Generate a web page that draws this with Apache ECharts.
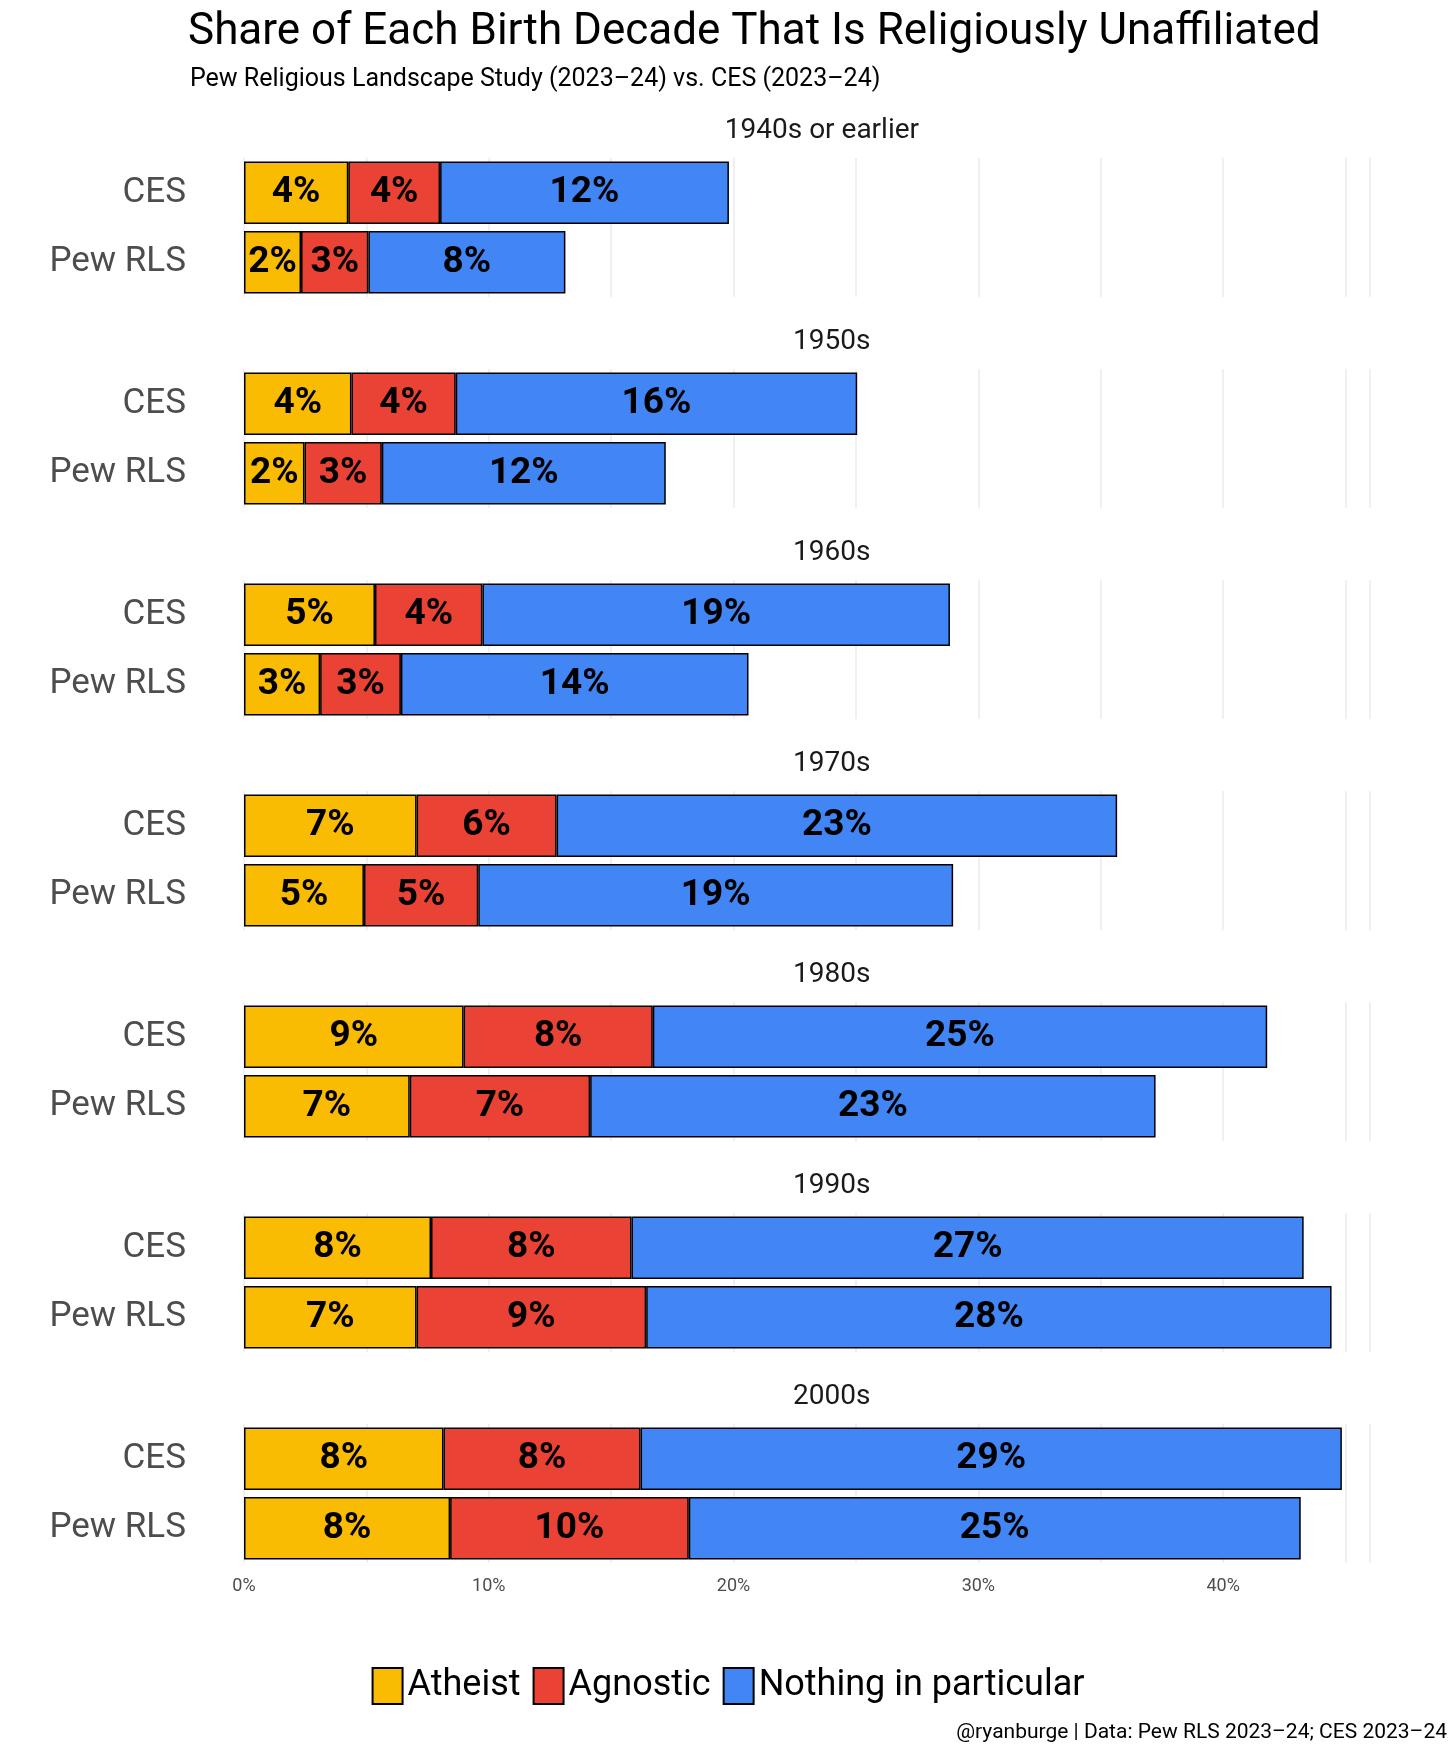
<!DOCTYPE html>
<html>
<head>
<meta charset="utf-8">
<script src="https://cdn.jsdelivr.net/npm/echarts@6/dist/echarts.min.js"></script>
<style>body{margin:0;background:#fff}</style>
</head>
<body>
<div id="chart" style="width:1456px;height:1747px;"></div>
<script>
var decades = ['1940s or earlier', '1950s', '1960s', '1970s', '1980s', '1990s', '2000s'];
var surveys = ['CES', 'Pew RLS'];
// [CES, Pew RLS] per decade
var atheist  = [[4.26, 2.33], [4.39, 2.47], [5.35, 3.11], [7.05, 4.9], [8.97, 6.77], [7.64, 7.05], [8.15, 8.42]];
var agnostic = [[3.75, 2.75], [4.26, 3.16], [4.39, 3.3], [5.72, 4.67], [7.73, 7.37], [8.19, 9.38], [8.05, 9.75]];
var nothing  = [[11.8, 8.05], [16.4, 11.6], [19.1, 14.2], [22.9, 19.4], [25.1, 23.1], [27.46, 28.0], [28.65, 25.0]];
var names = ['Atheist', 'Agnostic', 'Nothing in particular'];
var colors = ['#F9BC02', '#EA4335', '#4285F4'];
var xTicks = [0, 10, 20, 30, 40];

var font = 'Liberation Sans Narrow, Roboto, sans-serif';
var grids = [], xAxes = [], yAxes = [], series = [], titles = [];
titles.push({text: 'Share of Each Birth Decade That Is Religiously Unaffiliated', left: 183, top: 6,
  textStyle: {fontFamily: font, fontWeight: 'normal', fontSize: 44, color: '#000'}});
titles.push({text: 'Pew Religious Landscape Study (2023\u201324) vs. CES (2023\u201324)', left: 185, top: 62,
  textStyle: {fontFamily: font, fontWeight: 'normal', fontSize: 25, color: '#000'}});
titles.push({text: '@ryanburge | Data: Pew RLS 2023\u201324; CES 2023\u201324', right: 4, top: 1717,
  textStyle: {fontFamily: font, fontWeight: 'normal', fontSize: 21, color: '#000'}});

var stacks = [atheist, agnostic, nothing];
function pctLabel(p) { return Math.round(p.value) + '%'; }
function tickLabel(v) { return xTicks.indexOf(v) >= 0 ? v + '%' : ''; }

decades.forEach(function (dec, i) {
  var top = 158 + 211 * i;
  grids.push({left: 244, width: 1126, top: top, height: 139});
  titles.push({text: dec, left: 819 - dec.length * 6.2, top: top - 46,
    textStyle: {fontFamily: font, fontWeight: 'normal', fontSize: 28, color: '#1a1a1a'}});
  xAxes.push({type: 'value', gridIndex: i, min: 0, max: 46, interval: 5,
    axisLine: {show: false}, axisTick: {show: false},
    splitLine: {show: true, lineStyle: {color: '#ebebeb', width: 1.5}},
    axisLabel: {show: i === decades.length - 1, fontFamily: font, fontSize: 18, color: '#4d4d4d', margin: 14,
      formatter: tickLabel}});
  yAxes.push({type: 'category', gridIndex: i, data: surveys, inverse: true,
    axisLine: {show: false}, axisTick: {show: false},
    axisLabel: {fontFamily: font, fontSize: 35, color: '#4d4d4d', margin: 58}});
  for (var s = 0; s < 3; s++) {
    series.push({
      name: names[s], type: 'bar', stack: 'd' + i, xAxisIndex: i, yAxisIndex: i,
      data: stacks[s][i], barWidth: '90%',
      itemStyle: {color: colors[s], borderColor: '#000', borderWidth: 1.5},
      label: {show: true, position: 'inside', fontFamily: font, fontWeight: 'bold', fontSize: 37, color: '#000',
        formatter: pctLabel}
    });
  }
  var totals = [0, 1].map(function (k) { return atheist[i][k] + agnostic[i][k] + nothing[i][k]; });
  series.push({
    name: 'total' + i, type: 'bar', stack: 'd' + i, xAxisIndex: i, yAxisIndex: i, barWidth: '90%', silent: true,
    data: [0.001, 0.001],
    itemStyle: {opacity: 0},
    label: {show: true, position: 'right', distance: 14, fontFamily: font, fontWeight: 'bold', fontSize: 40, color: '#000',
      formatter: function (p) { return Math.round(totals[p.dataIndex]) + '%'; }}
  });
});

var chart = echarts.init(document.getElementById('chart'));
chart.setOption({
  animation: false,
  title: titles,
  grid: grids, xAxis: xAxes, yAxis: yAxes, series: series,
  legend: {data: names, left: 'center', top: 1662, itemWidth: 30, itemHeight: 36, itemGap: 12,
    icon: 'rect', selectedMode: false,
    textStyle: {fontFamily: font, fontSize: 36, color: '#000'}}
});
</script>
</body>
</html>
